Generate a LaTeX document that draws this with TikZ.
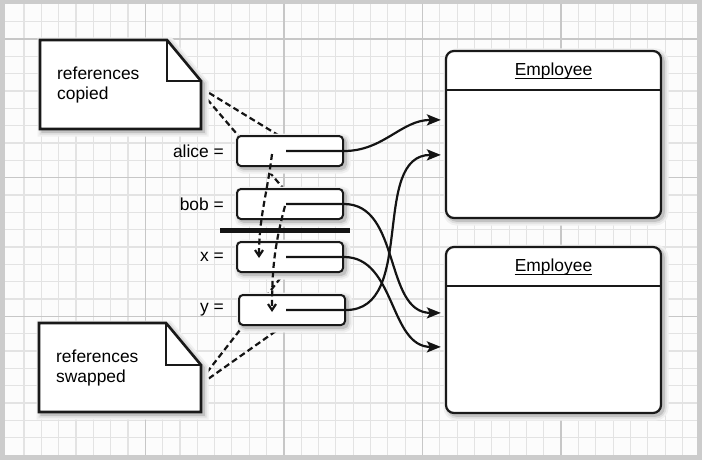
\documentclass[tikz,border=0pt]{standalone}
\usepackage{fontspec}
\setmainfont{Liberation Sans}
\usetikzlibrary{positioning,arrows.meta,calc,shadows}

\pgfdeclarelayer{grid}
\pgfdeclarelayer{behind}
\pgfsetlayers{grid,behind,main}

\tikzset{
  minorline/.style={draw=black!11, line width=1.2pt},
  majorline/.style={draw=black!22, line width=1.4pt},
  softshadow/.style={
    general shadow={draw=black!6, fill=black!6, line width=10pt, shadow xshift=2.5pt, shadow yshift=-2.5pt},
    general shadow={draw=black!13, fill=black!13, line width=6pt, shadow xshift=2.5pt, shadow yshift=-2.5pt},
    general shadow={draw=black!24, fill=black!24, line width=2.5pt, shadow xshift=2.5pt, shadow yshift=-2.5pt}},
  refbox/.style={draw=black!90, line width=2pt, rounded corners=4pt, fill=white,
    minimum width=106pt, minimum height=30pt, inner sep=0pt, softshadow},
  objbox/.style={draw=black!90, line width=2.2pt, rounded corners=8pt, fill=white,
    minimum width=215pt, inner sep=0pt, softshadow},
  notebox/.style={draw=black!90, line width=2.6pt, fill=white, line join=miter, softshadow},
  notefold/.style={draw=black!90, line width=2.6pt},
  notetext/.style={anchor=north west, align=left, inner sep=0pt},
  varlabel/.style={inner sep=0pt},
  ref/.style={draw=black!92, line width=2.2pt, -{Stealth[length=14pt,width=11pt,inset=3pt]}},
  copyarrow/.style={draw=black!92, line width=2.2pt, dash pattern=on 6pt off 3.5pt,
    -{Straight Barb[length=6pt,width=8pt]}},
  noteline/.style={draw=black!92, line width=2.2pt, dash pattern=on 6pt off 3.5pt},
}

\begin{document}
\begin{tikzpicture}[x=1pt, y=1pt, node distance=53pt,
    font=\fontsize{17.4pt}{20pt}\selectfont]
\useasboundingbox (0,0) rectangle (702,-460);

% paper and grid
\begin{pgfonlayer}{grid}
  \fill[black!20] (0,0) rectangle (702,-460);
  \fill[black!1] (5,-4) rectangle (697,-455);
  \foreach \k in {1,...,39}
    \draw[minorline] ({6.6+17.33*\k},-4) -- ({6.6+17.33*\k},-455);
  \foreach \k in {-1,...,23}
    \draw[minorline] (5,{-39-17.33*\k}) -- (697,{-39-17.33*\k});
  \foreach \k in {8,16,24,32}
    \draw[majorline] ({6.6+17.33*\k},-4) -- ({6.6+17.33*\k},-455);
  \foreach \k in {0,8,16}
    \draw[majorline] (5,{-39-17.33*\k}) -- (697,{-39-17.33*\k});
\end{pgfonlayer}

% notes
\draw[notebox] (40,-40) -- (167,-40) -- (201,-81) -- (201,-129) -- (40,-129) -- cycle;
\draw[notefold] (167,-40) -- (167,-81) -- (201,-81);
\node[notetext] (copiednote) at (57,-66.5) {references\\copied};
\coordinate (copiedtip) at (201,-90);

\draw[notebox] (39,-323) -- (166,-323) -- (201,-365) -- (201,-412) -- (39,-412) -- cycle;
\draw[notefold] (166,-323) -- (166,-365) -- (201,-365);
\node[notetext] (swappednote) at (56,-349.5) {references\\swapped};
\coordinate (swappedtip) at (201,-382);

% objects
\node[objbox, minimum height=167pt] (emp1) at (553.5,-134.5) {};
\draw[black!90, line width=1.6pt] ([yshift=-40pt]emp1.north west) -- ([yshift=-40pt]emp1.north east);
\node[inner sep=0pt, anchor=base] (emp1title) at ([yshift=-26pt]emp1.north) {Employee};
\draw[line width=1.1pt] ([yshift=-3pt]emp1title.base west) -- ([yshift=-3pt]emp1title.base east);

\node[objbox, minimum height=166pt] (emp2) at (553.5,-330) {};
\draw[black!90, line width=1.6pt] ([yshift=-40pt]emp2.north west) -- ([yshift=-40pt]emp2.north east);
\node[inner sep=0pt, anchor=base] (emp2title) at ([yshift=-26pt]emp2.north) {Employee};
\draw[line width=1.1pt] ([yshift=-3pt]emp2title.base west) -- ([yshift=-3pt]emp2title.base east);

% variables
\node[refbox] (alice) at (290,-151) {};
\node[refbox, below of=alice] (bob) {};
\node[refbox, below of=bob] (xvar) {};
\node[refbox, below of=xvar, xshift=2pt] (yvar) {};

\node[varlabel, left=12pt of alice] (alicelabel) {alice =};
\node[varlabel, left=12pt of bob] (boblabel) {bob =};
\node[varlabel, left=12pt of xvar] (xlabel) {x =};
\node[varlabel, left=14pt of yvar] (ylabel) {y =};

\coordinate (cut) at ($(bob.south)!0.5!(xvar.north)$);
\draw[black!92, line width=4.5pt] ([xshift=-70pt]cut) -- ([xshift=60pt]cut);

% note lines (behind the boxes)
\begin{pgfonlayer}{behind}
  \draw[noteline] ([yshift=2pt]copiedtip) -- ([xshift=-12pt]alice.north);
  \draw[noteline] ([yshift=-2pt]copiedtip) -- ([xshift=-7pt]bob.north);
  \draw[noteline] ([yshift=2pt]swappedtip) -- ([xshift=-8pt,yshift=-3pt]xvar.south);
  \draw[noteline] ([yshift=-2pt]swappedtip) -- ([xshift=-9pt]yvar.south);
\end{pgfonlayer}

% references
\coordinate (e1a) at ([xshift=-4pt,yshift=-70pt]emp1.north west);
\coordinate (e1b) at ([xshift=-4pt,yshift=-105pt]emp1.north west);
\coordinate (e2a) at ([xshift=-4pt,yshift=-67pt]emp2.north west);
\coordinate (e2b) at ([xshift=-4pt,yshift=-101pt]emp2.north west);

\draw[ref] ([xshift=-4pt]alice.center) -- (alice.east) to[out=0,in=180] (e1a);
\draw[ref] ([xshift=-4pt]bob.center) -- (bob.east) to[out=0,in=180] (e2a);
\draw[ref] ([xshift=-4pt]xvar.center) -- (xvar.east) to[out=0,in=180] (e2b);
\draw[ref] ([xshift=-6pt]yvar.center) -- (yvar.east) to[out=0,in=180] (e1b);

% copies
\draw[copyarrow] ([xshift=-18pt,yshift=-3pt]alice.center) to[out=-97,in=90] ([xshift=-31pt,yshift=-1pt]xvar.center);
\draw[copyarrow] ([xshift=-5pt,yshift=-2pt]bob.center) to[out=-105,in=90] ([xshift=-20pt,yshift=-2pt]yvar.center);
\end{tikzpicture}
\end{document}
